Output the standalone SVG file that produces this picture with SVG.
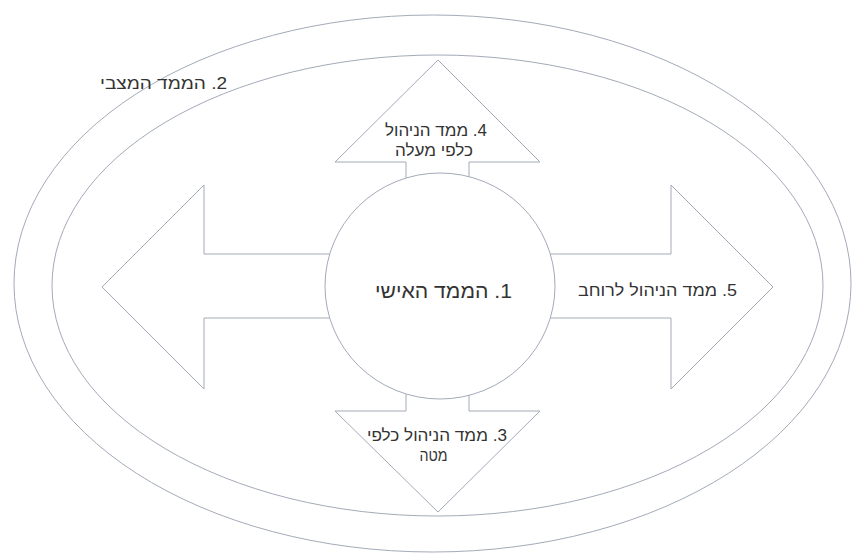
<svg xmlns="http://www.w3.org/2000/svg" width="853" height="554" viewBox="0 0 853 554">
<style>
.sh{fill:#ffffff;stroke:#a3aab8;stroke-width:1}
.t{font-family:"Liberation Sans","DejaVu Sans",Arial,sans-serif;fill:#333333;direction:rtl;unicode-bidi:embed;text-anchor:middle}
.s{font-size:16px}
.b{font-size:20px}
</style>
<rect width="853" height="554" fill="#ffffff"/>
<g id="outer">
<ellipse class="sh" cx="432.5" cy="283.5" rx="418.5" ry="268.5"/>
<text class="t s" x="163.5" y="89" direction="rtl" textLength="127" lengthAdjust="spacingAndGlyphs">2. הממד המצבי</text>
</g>
<g id="inner">
<ellipse class="sh" cx="437.5" cy="285.5" rx="385.5" ry="230.5"/>
</g>
<g id="connectors">
<polygon id="arrow-left" class="sh" points="102,287 204,185 204,254 440,254 440,318 204,318 204,389"/>
<polygon id="arrow-right" class="sh" points="773,287 671,185 671,254 440,254 440,318 671,318 671,389"/>
<polygon id="arrow-up" class="sh" points="438,60 540,162 469,162 469,286 406,286 406,162 335,162"/>
<polygon id="arrow-down" class="sh" points="438,512 540,411 469,411 469,286 406,286 406,411 335,411"/>
</g>
<g id="center">
<ellipse class="sh" cx="440" cy="286" rx="115" ry="113"/>
<text class="t b" x="443.5" y="298" direction="rtl" textLength="137" lengthAdjust="spacingAndGlyphs">1. הממד האישי</text>
</g>
<g id="up-label">
<text class="t s" x="436" y="136" direction="rtl" textLength="102" lengthAdjust="spacingAndGlyphs">4. ממד הניהול</text>
<text class="t s" x="434" y="156" direction="rtl" textLength="78" lengthAdjust="spacingAndGlyphs">כלפי מעלה</text>
</g>
<g id="right-label">
<text class="t s" x="657.5" y="296" direction="rtl" textLength="159" lengthAdjust="spacingAndGlyphs">5. ממד הניהול לרוחב</text>
</g>
<g id="down-label">
<text class="t s" x="437" y="441" direction="rtl" textLength="140" lengthAdjust="spacingAndGlyphs">3. ממד הניהול כלפי</text>
<text class="t s" x="433.5" y="461" direction="rtl" textLength="28" lengthAdjust="spacingAndGlyphs">מטה</text>
</g>
</svg>
